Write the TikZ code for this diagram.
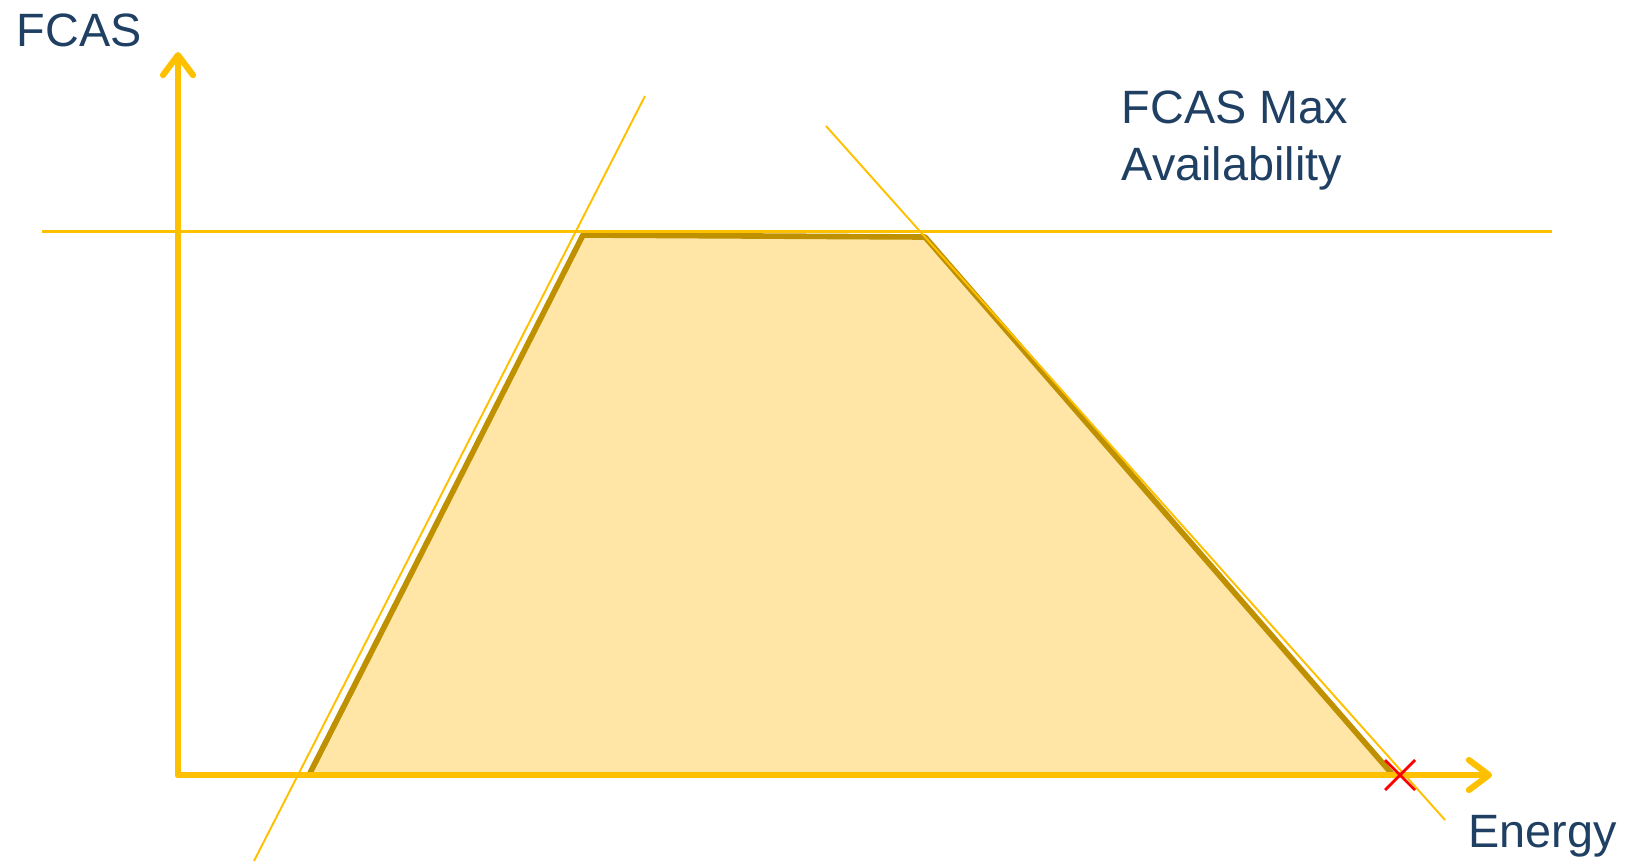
\documentclass[tikz,border=0pt]{standalone}
\usepackage{fontspec}
\setmainfont{Liberation Sans}
\usetikzlibrary{calc,arrows.meta}
\definecolor{axisyellow}{RGB}{255,192,0}
\definecolor{edgegold}{RGB}{191,144,0}
\definecolor{areafill}{RGB}{255,230,166}
\definecolor{txtblue}{RGB}{31,63,99}

\tikzset{
  axisline/.style={draw=axisyellow, line width=1.75pt, line cap=round,
    -{Straight Barb[length=0.2cm,width=0.3cm,round]}},
  limitline/.style={draw=axisyellow, line width=0.55pt},
  lbl/.style={text=txtblue, inner sep=0pt, font=\fontsize{13.3}{16.2}\selectfont},
}

\begin{document}
\begin{tikzpicture}[x=0.01cm,y=-0.01cm]
\useasboundingbox (0,0) rectangle (1630,863);

\coordinate (o) at (178,775);
\coordinate (ytip) at (178,52);
\coordinate (xtip) at (1492,775);

% feasible region
\coordinate (r1) at (309,775);
\coordinate (r2) at (583,235);
\coordinate (r3) at (925,237);
\coordinate (r4) at (1393,775);

\filldraw[fill=areafill, draw=edgegold, line width=1.6pt, line join=round]
  (r1) -- (r2) -- (r3) -- (r4) -- cycle;

% limits
\coordinate (lo1) at (254,861);
\coordinate (lo2) at (645,96);
\coordinate (hi1) at (826,126);
\coordinate (hi2) at (1445,820);
\coordinate (mx1) at (42,231);
\coordinate (mx2) at (1552,231);

\draw[limitline] (lo1) -- (lo2);
\draw[limitline] (hi1) -- (hi2);
\draw[limitline, line width=0.85pt] (mx1) -- (mx2);

\draw[axisline] (o) -- (ytip);
\draw[axisline] (o) -- (xtip);

\coordinate (cross) at (1400,775);
\draw[red, line width=0.8pt] ($(cross)+(-15,-15)$) -- ($(cross)+(15,15)$);
\draw[red, line width=0.8pt] ($(cross)+(-15,15)$) -- ($(cross)+(15,-15)$);

\node[lbl, anchor=base west] (ylbl) at (16,46) {FCAS};
\node[lbl, anchor=base west] (xlbl) at (1468,847) {Energy};
\node[lbl, anchor=base west, align=left] (maxlbl) at (1121,180) {FCAS Max\\Availability};

\end{tikzpicture}
\end{document}
